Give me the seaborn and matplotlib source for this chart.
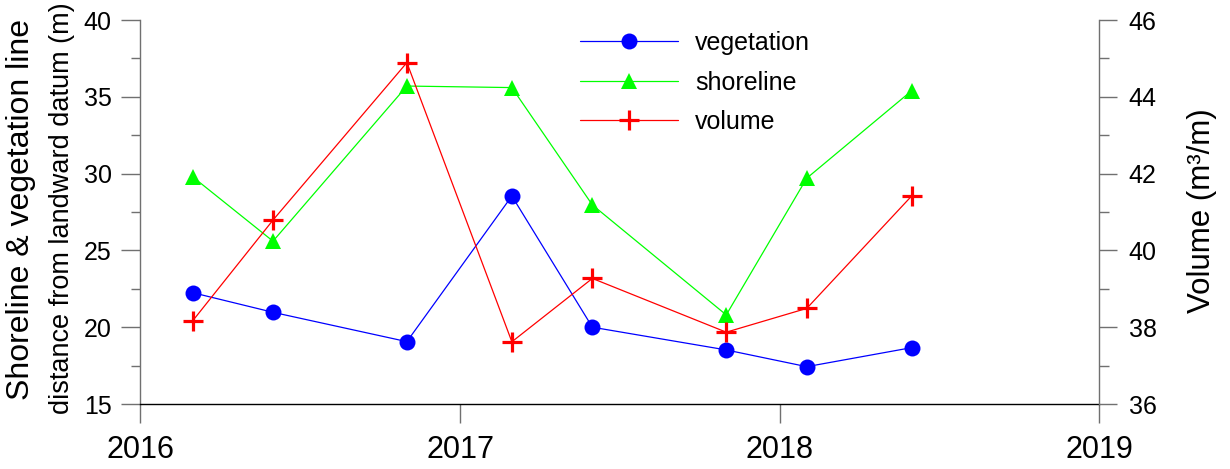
import matplotlib
matplotlib.use("Agg")
import matplotlib.pyplot as plt
import matplotlib.dates as mdates
from matplotlib.ticker import MultipleLocator
import pandas as pd
import seaborn as sns

# ---- data ----
dates = ["2016-03-01", "2016-06-01", "2016-11-01", "2017-03-01",
         "2017-06-01", "2017-11-01", "2018-02-01", "2018-06-01"]
vegetation = [22.25, 20.97, 19.06, 28.54, 20.0, 18.52, 17.43, 18.67]
shoreline = [29.8, 25.6, 35.7, 35.6, 27.96, 20.8, 29.7, 35.4]
volume = [38.16, 40.79, 44.89, 37.62, 39.27, 37.87, 38.49, 41.42]
year_ticks = ["2016-01-01", "2017-01-01", "2018-01-01", "2019-01-01"]

df = pd.DataFrame({"date": pd.to_datetime(dates), "vegetation": vegetation,
                   "shoreline": shoreline, "volume": volume})

sns.set_style("ticks")
plt.rcParams["font.family"] = ["Liberation Sans", "DejaVu Sans"]
plt.rcParams["text.color"] = "black"
plt.rcParams["axes.labelcolor"] = "black"
plt.rcParams["xtick.labelcolor"] = "black"
plt.rcParams["ytick.labelcolor"] = "black"

W, H = 1230, 469
fig = plt.figure(figsize=(W / 100, H / 100), dpi=100)
ax = fig.add_axes([140 / W, 1 - 404 / H, (1099 - 140) / W, (404 - 20) / H])
ax2 = ax.twinx()

lw = 0.9
sns.lineplot(data=df, x="date", y="vegetation", ax=ax, color="#0000ff",
             marker="o", markersize=11.5, markeredgecolor="#0000ff",
             markeredgewidth=0, linewidth=lw, label="vegetation", legend=False)
sns.lineplot(data=df, x="date", y="shoreline", ax=ax, color="#00ff00",
             marker="^", markersize=11, markeredgecolor="#00ff00",
             markeredgewidth=0, linewidth=lw, label="shoreline", legend=False)
sns.lineplot(data=df, x="date", y="volume", ax=ax2, color="#ff0000",
             marker="+", markersize=15, markeredgecolor="#ff0000",
             markeredgewidth=2.3, linewidth=lw, label="volume", legend=False)

# axes limits
ax.set_xlim(pd.Timestamp(year_ticks[0]), pd.Timestamp(year_ticks[-1]))
ax.set_ylim(15, 40)
ax2.set_ylim(36, 46)

ax.xaxis.set_major_locator(mdates.YearLocator())
ax.xaxis.set_major_formatter(mdates.DateFormatter("%Y"))
ax.yaxis.set_major_locator(MultipleLocator(5))
ax.yaxis.set_minor_locator(MultipleLocator(2.5))
ax2.yaxis.set_major_locator(MultipleLocator(2))
ax2.yaxis.set_minor_locator(MultipleLocator(1))

gray = "#707070"
for a in (ax, ax2):
    for s in a.spines.values():
        s.set_visible(False)
ax.spines["left"].set_visible(True)
ax.spines["left"].set_color(gray)
ax.spines["bottom"].set_visible(True)
ax.spines["bottom"].set_color("black")
ax2.spines["right"].set_visible(True)
ax2.spines["right"].set_color(gray)
for s in (ax.spines["left"], ax.spines["bottom"], ax2.spines["right"]):
    s.set_linewidth(1.0)

ax.tick_params(axis="x", which="major", direction="out", length=13.5, width=1,
               color=gray, labelsize=22, pad=9, labelcolor="black")
ax.tick_params(axis="x", which="minor", length=0)
ax.tick_params(axis="y", which="major", direction="out", length=13.5, width=1,
               color=gray, labelsize=18, pad=7, labelcolor="black")
ax.tick_params(axis="y", which="minor", direction="out", length=6.5, width=1,
               color=gray)
ax2.tick_params(axis="y", which="major", direction="out", length=13, width=1,
                color=gray, labelsize=18, pad=8.5, labelcolor="black")
ax2.tick_params(axis="y", which="minor", direction="out", length=7, width=1,
                color=gray)

ax.set_xlabel("")
ax.set_ylabel("")
ax2.set_ylabel("")

fig.text(21 / W, 1 - 209 / H, "Shoreline & vegetation line", rotation=90,
         ha="center", va="center", fontsize=23, color="black")
fig.text(62 / W, 1 - 208 / H, "distance from landward datum (m)", rotation=90,
         ha="center", va="center", fontsize=19.5, color="black")
fig.text(1202 / W, 1 - 211 / H, "Volume (m³/m)", rotation=90,
         ha="center", va="center", fontsize=22.5, color="black")

handles = [ax.lines[0], ax.lines[1], ax2.lines[0]]
labels = ["vegetation", "shoreline", "volume"]
leg = ax2.legend(handles, labels, loc="upper left",
                 bbox_to_anchor=(580 / W, 1 - 31 / H),
                 bbox_transform=fig.transFigure, frameon=False,
                 fontsize=18, handlelength=3.9, handletextpad=0.7,
                 labelspacing=0.62, borderpad=0, borderaxespad=0)
for t in leg.get_texts():
    t.set_color("black")

fig.savefig("out.png", dpi=100)
